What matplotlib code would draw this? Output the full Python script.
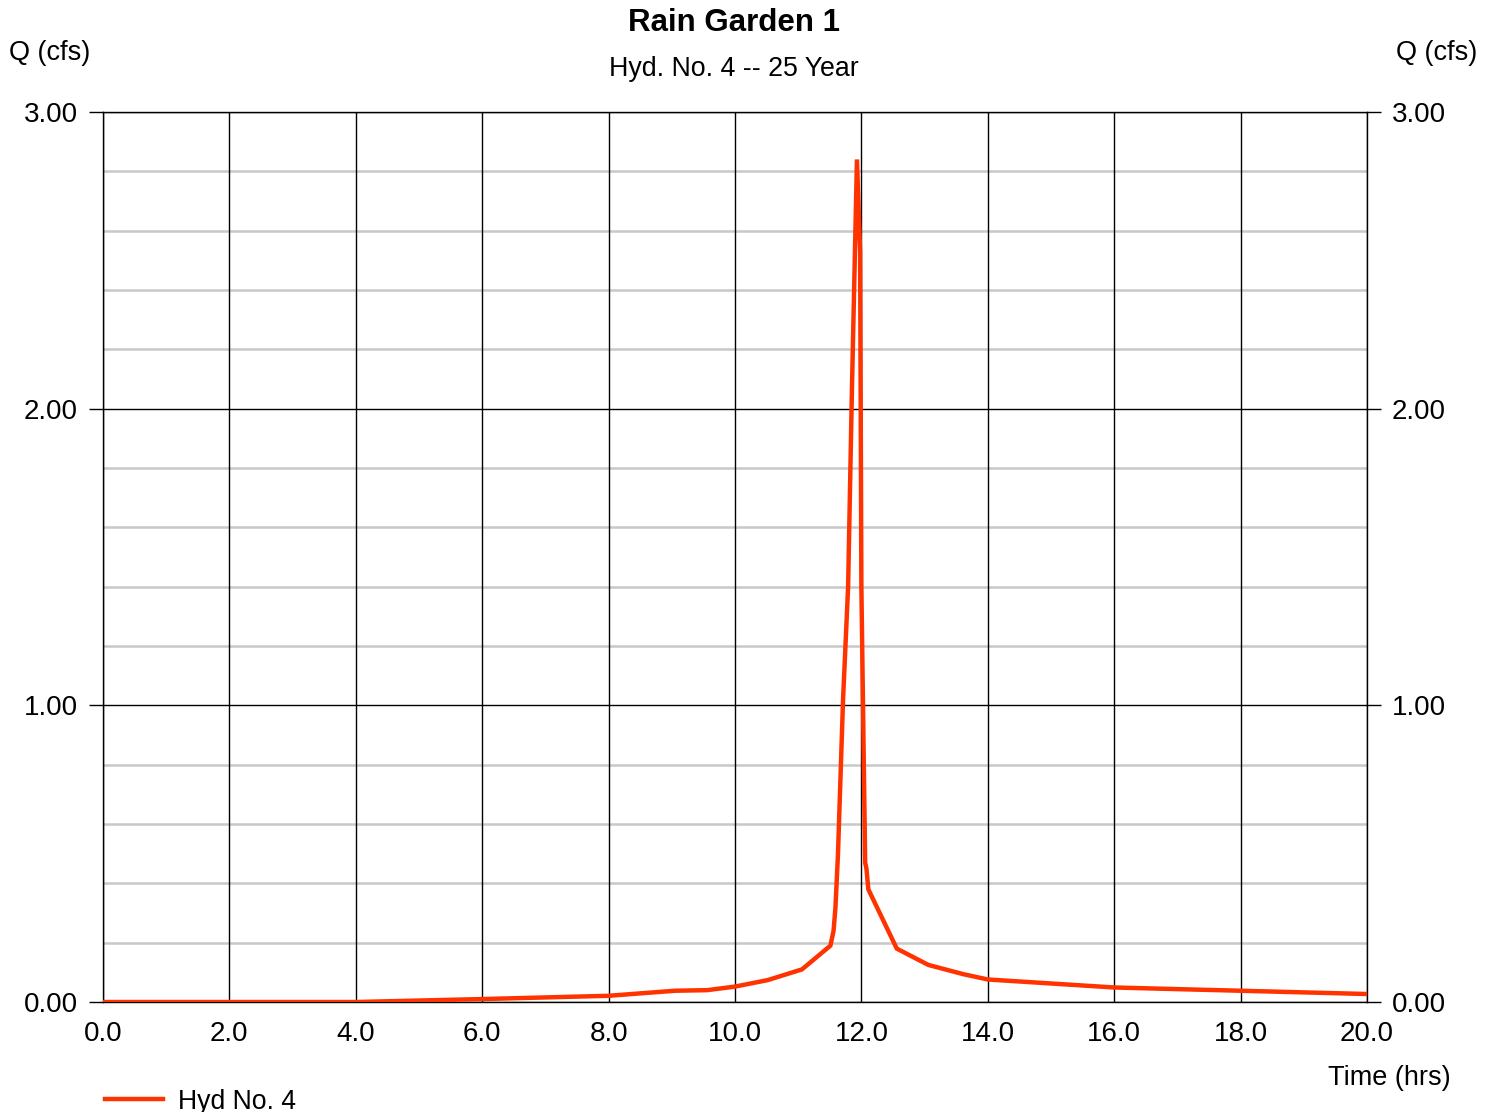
import numpy as np
import matplotlib
matplotlib.use("Agg")
import matplotlib.pyplot as plt

plt.rcParams['font.family'] = ['Liberation Sans', 'DejaVu Sans']

# Hydrograph (time in hrs, flow in cfs)
time_hrs = [0.0, 2.0, 4.0, 6.0, 8.0, 9.05, 9.56, 10.0, 10.52, 11.06, 11.51,
            11.56, 11.59, 11.63, 11.71, 11.79, 11.85, 11.93, 11.98, 12.0,
            12.06, 12.08, 12.11, 12.56, 13.06, 13.61, 14.0, 16.0, 18.0, 20.0]
flow_cfs = [0.0, 0.0, 0.0, 0.01, 0.021, 0.038, 0.040, 0.052, 0.074, 0.11, 0.19,
            0.24, 0.32, 0.50, 1.02, 1.40, 2.06, 2.84, 2.53, 1.40,
            0.47, 0.45, 0.38, 0.18, 0.125, 0.094, 0.076, 0.049, 0.038, 0.027]

x_ticks = np.arange(0, 21, 2)
y_ticks = [0, 1, 2, 3]

fig = plt.figure(figsize=(14.94, 11.12), dpi=100)
ax = fig.add_axes([0.0689, 0.0989, 0.8461, 0.8004])

ax.set_xlim(0, 20)
ax.set_ylim(0, 3)

# grid: gray minor lines every 0.2 cfs, black majors
for y in np.arange(0.2, 3.0, 0.2):
    if abs(y - round(y)) > 1e-6:
        ax.axhline(y, color='#c8c8c8', lw=1.8, zorder=1)
for y in y_ticks:
    ax.axhline(y, color='black', lw=1.0, zorder=1)
for x in x_ticks:
    ax.axvline(x, color='black', lw=1.0, zorder=1)

ax.plot(time_hrs, flow_cfs, color='#ff3300', lw=3.2, zorder=3,
        solid_joinstyle='miter', label='Hyd No. 4')

ax.set_xticks(x_ticks)
ax.set_xticklabels([f"{x:.1f}" for x in x_ticks])
ax.set_yticks(y_ticks)
ax.set_yticklabels([f"{y:.2f}" for y in y_ticks])
ax.tick_params(axis='x', length=0, pad=14, labelsize=20)
ax.tick_params(axis='y', length=10, width=1, pad=8, labelsize=20,
               right=True, labelright=True)
for s in ax.spines.values():
    s.set_linewidth(1.0)

fig.text(0.491, 0.979, "Rain Garden 1", ha='center', va='center',
         fontsize=22.5, fontweight='bold')
fig.text(0.491, 0.938, "Hyd. No. 4 -- 25 Year", ha='center', va='center',
         fontsize=19.3)
fig.text(0.033, 0.952, "Q (cfs)", ha='center', va='center', fontsize=19.5)
fig.text(0.9615, 0.952, "Q (cfs)", ha='center', va='center', fontsize=19.5)
fig.text(0.930, 0.031, "Time (hrs)", ha='center', va='center', fontsize=19.5)

leg = fig.legend(loc='lower left', bbox_to_anchor=(0.054, -0.024), frameon=False,
                 fontsize=19.2, handlelength=2.2, handletextpad=0.55)

fig.savefig("out.png", dpi=100)
